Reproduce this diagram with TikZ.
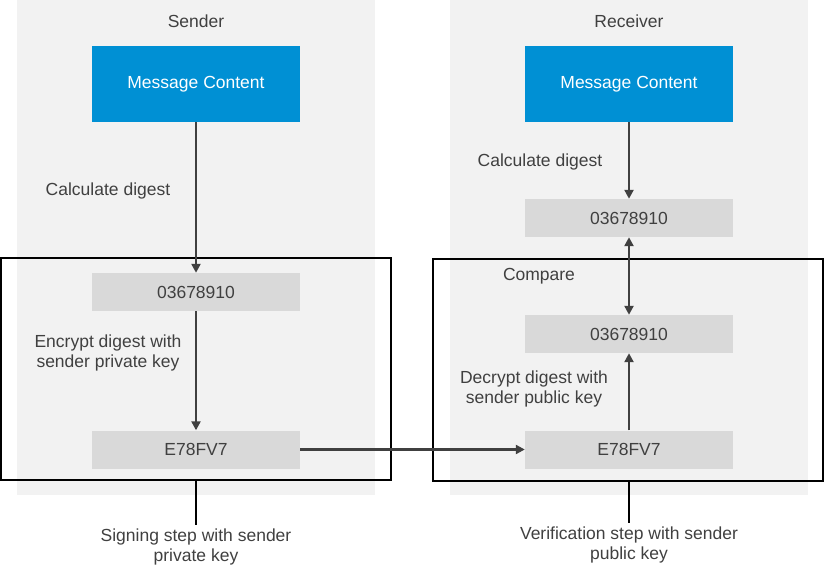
\documentclass[tikz,border=0pt]{standalone}
\usepackage{fontspec}
\setmainfont{Liberation Sans}
\usetikzlibrary{arrows.meta}
\definecolor{panel}{HTML}{F2F2F2}
\definecolor{msgblue}{HTML}{0090D4}
\definecolor{digest}{HTML}{D9D9D9}
\definecolor{ink}{HTML}{404040}

\begin{document}
\begin{tikzpicture}[x=1pt, y=-1pt, font=\fontsize{17.5}{20}\selectfont, text=ink,
    msg/.style={fill=msgblue, text=white, minimum width=208pt, minimum height=76pt, inner sep=0pt},
    hash/.style={fill=digest, minimum width=208pt, minimum height=38pt, inner sep=0pt},
    frame/.style={draw=black, line width=2pt, minimum width=390pt, minimum height=222pt, inner sep=0pt},
    flow/.style={draw=ink, line width=2.8pt, -{Triangle[length=9pt,width=9pt]}},
    note/.style={align=center, inner sep=0pt, yshift=-2pt}]
    \useasboundingbox (0,0) rectangle (825,577);
    \fill[panel] (17,0) rectangle (375,495);
    \fill[panel] (450,0) rectangle (808,495);

    % sender side
    \node[note] (sTitle) at (196,19) {Sender};
    \node[msg] (sMsg) at (196,84) {Message Content};
    \node[hash] (sHash) at (196,292) {03678910};
    \node[hash] (sSig) at (196,449.5) {E78FV7};
    \node[frame] (sFrame) at (196,369) {};
    \node[note] (sCalc) at (108,189) {Calculate digest};
    \node[note] (sEnc) at (108,351) {Encrypt digest with\\sender private key};
    \node[note, inner sep=4pt] (sStep) at (196,545) {Signing step with sender\\private key};

    % receiver side
    \node[note] (rTitle) at (629,19) {Receiver};
    \node[msg] (rMsg) at (629,84) {Message Content};
    \node[hash] (rHash) at (629,218) {03678910};
    \node[hash] (rDec) at (629,334) {03678910};
    \node[hash] (rSig) at (629,449.5) {E78FV7};
    \node[frame] (rFrame) at (628,370) {};
    \node[note] (rCalc) at (540,160) {Calculate digest};
    \node[note] (rCmp) at (539,274) {Compare};
    \node[note] (rDecTxt) at (534,387) {Decrypt digest with\\sender public key};
    \node[note, inner sep=4pt] (rStep) at (629,543) {Verification step with sender\\public key};

    \draw[flow] (sMsg) -- (sHash);
    \draw[flow] (sHash) -- (sSig);
    \draw[flow] (sSig) -- (rSig);
    \draw[flow] (rMsg) -- (rHash);
    \draw[flow, {Triangle[length=9pt,width=9pt]}-{Triangle[length=9pt,width=9pt]}] (rHash) -- (rDec);
    \draw[flow] (rSig) -- (rDec);

    \draw[line width=2pt] (sFrame.south) -- (sStep.north);
    \draw[line width=2pt] (rFrame.south -| rStep.north) -- (rStep.north);
\end{tikzpicture}
\end{document}
